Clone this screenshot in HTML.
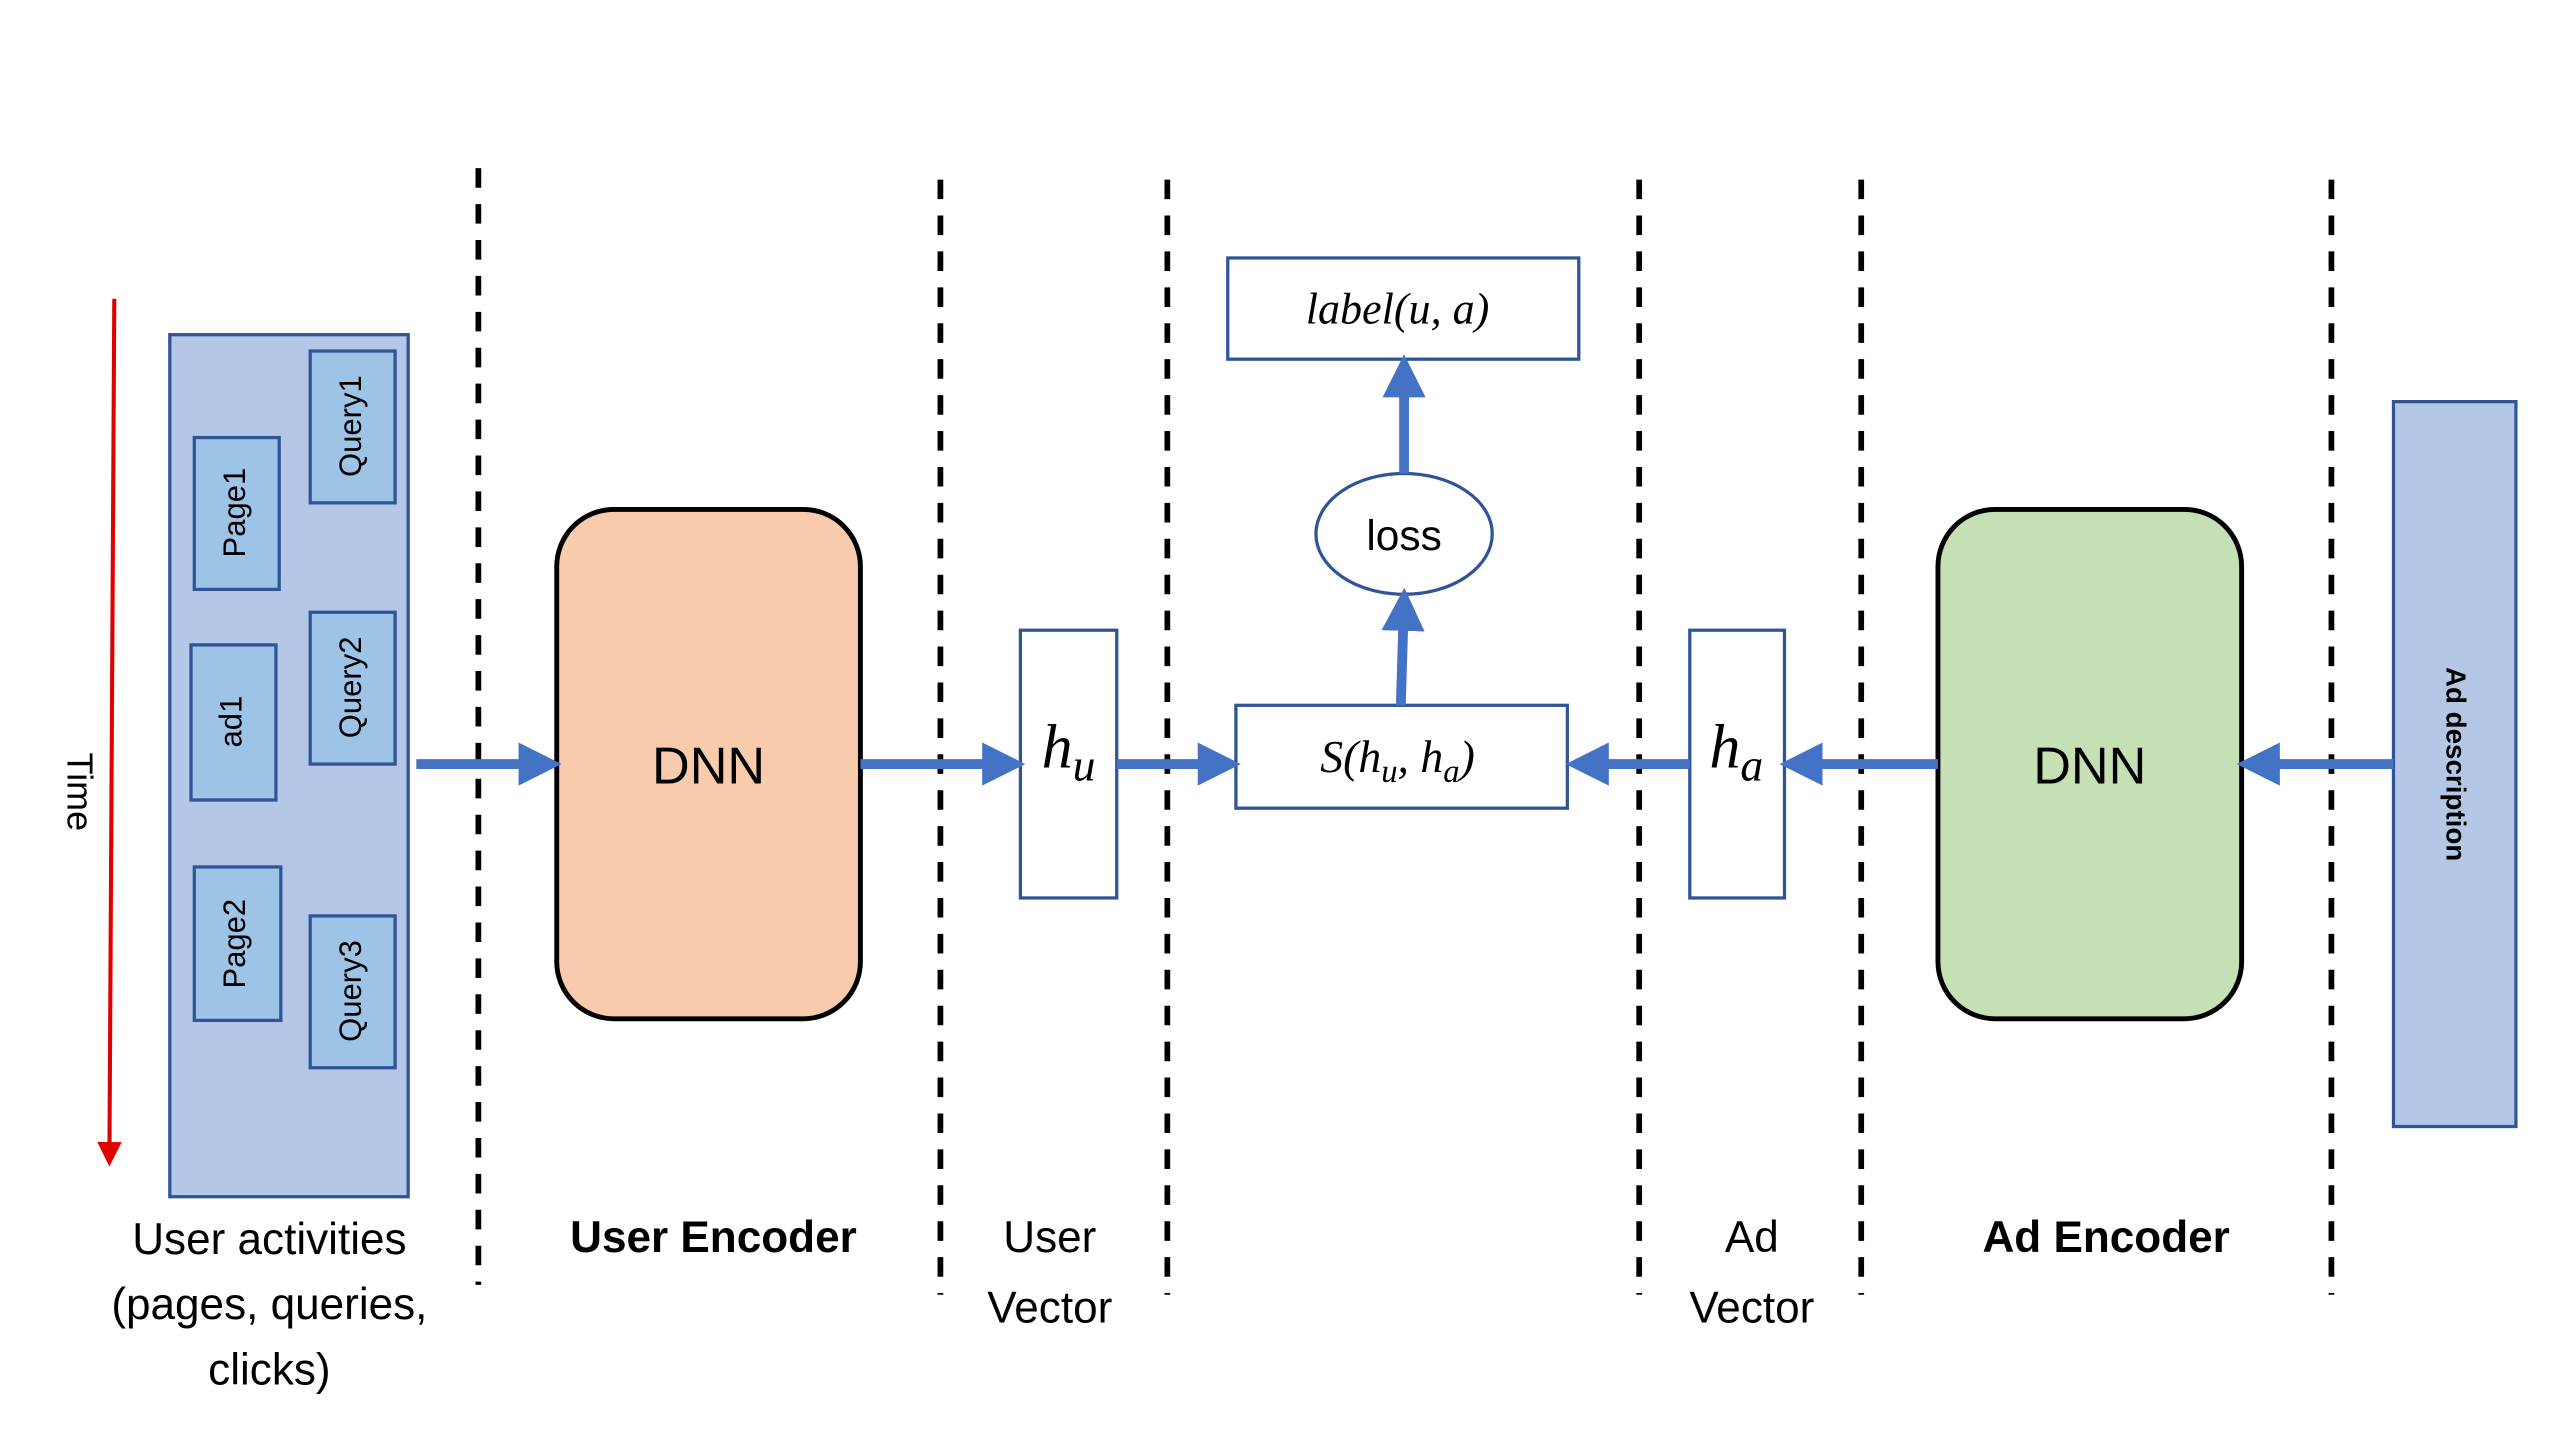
<!DOCTYPE html>
<html><head><meta charset="utf-8"><style>
html,body{margin:0;padding:0;background:#fff;width:2560px;height:1440px;overflow:hidden}
#w{width:1568px;height:882px;transform:scale(1.63265);transform-origin:0 0}
text{font-family:"Liberation Sans",sans-serif}
text.m{font-family:"Liberation Serif","DejaVu Serif",serif;font-style:italic}
</style></head><body><div id="w">
<svg width="1568" height="882" viewBox="0 0 1568 882" xmlns="http://www.w3.org/2000/svg">
<defs>
<marker id="ah" markerWidth="4.4" markerHeight="4.4" refX="3.4" refY="2.2" orient="auto" markerUnits="strokeWidth"><path d="M0,0 L4.4,2.2 L0,4.4 z" fill="#4472c4"/></marker>
<marker id="rh" markerWidth="6" markerHeight="6" refX="5" refY="3" orient="auto" markerUnits="strokeWidth"><path d="M0,0 L6,3 L0,6 z" fill="#e00000"/></marker>
</defs>
<g stroke="#000" stroke-width="3.5" stroke-dasharray="12,10">
<line x1="293" y1="103" x2="293" y2="787"/>
<line x1="576" y1="110" x2="576" y2="793"/>
<line x1="715" y1="110" x2="715" y2="793"/>
<line x1="1004" y1="110" x2="1004" y2="793"/>
<line x1="1140" y1="110" x2="1140" y2="793"/>
<line x1="1428" y1="110" x2="1428" y2="793"/>
</g>
<line x1="70" y1="183" x2="67" y2="712" stroke="#e00000" stroke-width="2.5" marker-end="url(#rh)"/>
<text x="47" y="485" font-size="22" text-anchor="middle" transform="rotate(90 47 485)" dominant-baseline="middle">Time</text>
<rect x="104" y="205" width="146" height="528" fill="#b4c7e7" stroke="#2f5597" stroke-width="2"/>
<g fill="#9dc3e6" stroke="#2f5597" stroke-width="2">
<rect x="190" y="215" width="52" height="93"/>
<rect x="119" y="268" width="52" height="93"/>
<rect x="190" y="375" width="52" height="93"/>
<rect x="117" y="395" width="52" height="95"/>
<rect x="119" y="531" width="53" height="94"/>
<rect x="190" y="561" width="52" height="93"/>
</g>
<g font-size="19" text-anchor="middle" dominant-baseline="middle">
<text transform="translate(216 261) rotate(-90)">Query1</text>
<text transform="translate(145 314) rotate(-90)">Page1</text>
<text transform="translate(216 421) rotate(-90)">Query2</text>
<text transform="translate(143 442) rotate(-90)">ad1</text>
<text transform="translate(145 578) rotate(-90)">Page2</text>
<text transform="translate(216 607) rotate(-90)">Query3</text>
</g>
<rect x="341" y="312" width="186" height="312" rx="35" fill="#f8cbad" stroke="#000" stroke-width="3"/>
<rect x="1187" y="312" width="186" height="312" rx="35" fill="#c5e0b4" stroke="#000" stroke-width="3"/>
<text x="434" y="480" font-size="32" text-anchor="middle">DNN</text>
<text x="1280" y="480" font-size="32" text-anchor="middle">DNN</text>
<g fill="#fff" stroke="#2f5597" stroke-width="2">
<rect x="625" y="386" width="59" height="164"/>
<rect x="1035" y="386" width="58" height="164"/>
<rect x="757" y="432" width="203" height="63"/>
<rect x="752" y="158" width="215" height="62"/>
<ellipse cx="860" cy="327" rx="54" ry="37"/>
</g>
<text class="m" x="638" y="470" font-size="38">h<tspan font-size="28" dy="8">u</tspan></text>
<text class="m" x="1047" y="470" font-size="38">h<tspan font-size="28" dy="8">a</tspan></text>
<text class="m" x="856" y="473" font-size="28" text-anchor="middle">S(h<tspan font-size="20" dy="6">u</tspan><tspan dy="-6">, h</tspan><tspan font-size="20" dy="6">a</tspan><tspan dy="-6">)</tspan></text>
<text class="m" x="856" y="198" font-size="27" text-anchor="middle">label(u, a)</text>
<text x="860" y="337" font-size="26" text-anchor="middle">loss</text>
<rect x="1466" y="246" width="75" height="444" fill="#b4c7e7" stroke="#2f5597" stroke-width="2"/>
<text transform="translate(1503 468) rotate(90)" font-size="17" font-weight="bold" text-anchor="middle" dominant-baseline="middle">Ad description</text>
<g stroke="#4472c4" stroke-width="6" marker-end="url(#ah)">
<line x1="255" y1="468" x2="338" y2="468"/>
<line x1="527" y1="468" x2="622" y2="468"/>
<line x1="684" y1="468" x2="754" y2="468"/>
<line x1="1035" y1="468" x2="965" y2="468"/>
<line x1="1187" y1="468" x2="1096" y2="468"/>
<line x1="1466" y1="468" x2="1376" y2="468"/>
<line x1="858" y1="432" x2="860" y2="366"/>
<line x1="860" y1="290" x2="860" y2="223"/>
</g>
<g font-size="27" text-anchor="middle">
<text x="165" y="768">User activities</text>
<text x="165" y="808">(pages, queries,</text>
<text x="165" y="848">clicks)</text>
<text x="437" y="767" font-weight="bold">User Encoder</text>
<text x="643" y="767">User</text>
<text x="643" y="810">Vector</text>
<text x="1073" y="767">Ad</text>
<text x="1073" y="810">Vector</text>
<text x="1290" y="767" font-weight="bold">Ad Encoder</text>
</g>
</svg>
</div></body></html>
